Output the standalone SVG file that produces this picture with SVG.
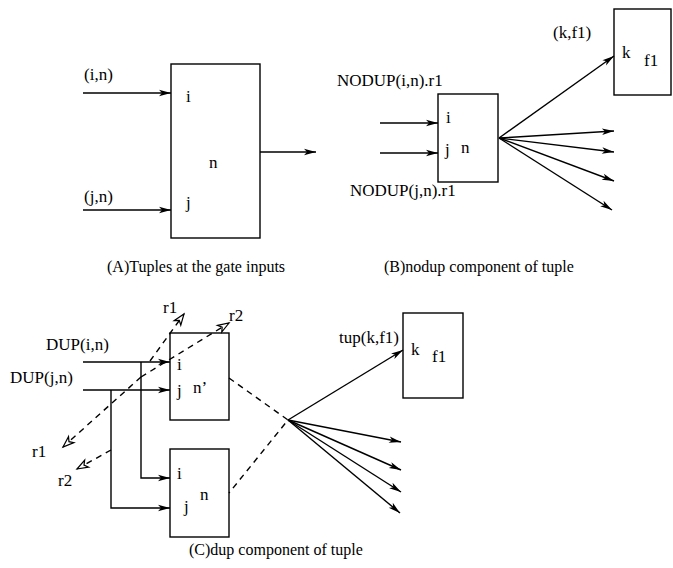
<svg xmlns="http://www.w3.org/2000/svg" width="673" height="568" viewBox="0 0 673 568">
<defs>
<marker id="ah" markerUnits="userSpaceOnUse" markerWidth="13" markerHeight="8" refX="12" refY="4" orient="auto" overflow="visible">
<path d="M0,0.8 L12,4 L0,7.2 L3,4 Z" fill="#000"/>
</marker>
<marker id="oh" markerUnits="userSpaceOnUse" markerWidth="13" markerHeight="9" refX="11" refY="4.5" orient="auto" overflow="visible">
<path d="M0,0.5 L11,4.5 L0,8.5 L3,4.5 Z" fill="#fff" stroke="#000" stroke-width="1.2"/>
</marker>
<style>
.box{fill:#fff;stroke:#000;stroke-width:1.4}
.ln{fill:none;stroke:#000;stroke-width:1.4}
.ar{fill:none;stroke:#000;stroke-width:1.4;marker-end:url(#ah)}
.da{fill:none;stroke:#000;stroke-width:1.4;stroke-dasharray:6 5}
.dh{marker-end:url(#oh)}
text{font-family:"Liberation Serif","Times New Roman",serif;font-size:17px;fill:#000}
.cap{font-size:16px}
</style>
</defs>
<rect width="673" height="568" fill="#fff"/>

<!-- Panel A -->
<g id="nodeA">
<rect class="box" x="171" y="64" width="89" height="174"/>
<text x="186" y="102">i</text>
<text x="186" y="208">j</text>
<text x="209" y="168">n</text>
</g>

<!-- Panel B -->
<g id="nodeB">
<rect class="box" x="438" y="94" width="60" height="88"/>
<text x="446" y="123">i</text>
<text x="445" y="155">j</text>
<text x="461" y="153">n</text>
</g>
<g id="nodeBk">
<rect class="box" x="614" y="9" width="57" height="86"/>
<text x="622" y="58">k</text>
<text x="644" y="66">f1</text>
</g>

<!-- Panel C -->
<g id="nodeCn1">
<rect class="box" x="170" y="333" width="59" height="87"/>
<text x="177" y="370">i</text>
<text x="177" y="396">j</text>
<text x="193" y="393">n’</text>
</g>
<g id="nodeCn">
<rect class="box" x="170" y="449" width="59" height="88"/>
<text x="177" y="479">i</text>
<text x="184" y="512">j</text>
<text x="200" y="500">n</text>
</g>
<g id="nodeCk">
<rect class="box" x="403" y="313" width="60" height="85"/>
<text x="411" y="355">k</text>
<text x="432" y="362">f1</text>
</g>

<g id="connectors">
<!-- A -->
<path class="ar" d="M83,93 H171"/>
<path class="ar" d="M83,210 H171"/>
<path class="ar" d="M260,152 H316"/>
<!-- B -->
<path class="ar" d="M380,123 H438"/>
<path class="ar" d="M380,153 H438"/>
<path class="ar" d="M499,138 L614,56"/>
<path class="ar" d="M499,138 L614,131"/>
<path class="ar" d="M499,138 L614,152"/>
<path class="ar" d="M499,138 L614,181"/>
<path class="ar" d="M499,138 L612,210"/>
<!-- C inputs -->
<path class="ar" d="M83,362 H170"/>
<path class="ar" d="M83,390 H170"/>
<path class="ar" d="M141,362 V478 H170"/>
<path class="ar" d="M111,390 V508 H170"/>
<!-- C dashed -->
<path class="da dh" d="M150,361 L184,314"/>
<path class="da dh" d="M141,377 L229,323"/>
<path class="da dh" d="M141,377 L63,447"/>
<path class="da dh" d="M111,450 L77,469"/>
<path class="da" d="M229,378 L288,420 L229,493"/>
<!-- C fan -->
<path class="ar" d="M288,420 L403,350"/>
<path class="ar" d="M288,420 L401,442"/>
<path class="ar" d="M288,420 L401,470"/>
<path class="ar" d="M288,420 L401,492"/>
<path class="ar" d="M288,420 L400,513"/>
</g>

<g id="labels">
<text x="84" y="80">(i,n)</text>
<text x="84" y="202">(j,n)</text>
<text x="337" y="86">NODUP(i,n).r1</text>
<text x="350" y="196">NODUP(j,n).r1</text>
<text x="553" y="38">(k,f1)</text>
<text x="46" y="350">DUP(i,n)</text>
<text x="10" y="383">DUP(j,n)</text>
<text x="163" y="313">r1</text>
<text x="229" y="321">r2</text>
<text x="32" y="457">r1</text>
<text x="58" y="486">r2</text>
<text x="339" y="343">tup(k,f1)</text>
<text class="cap" x="107" y="272">(A)Tuples at the gate inputs</text>
<text class="cap" x="384" y="272">(B)nodup component of tuple</text>
<text class="cap" x="189" y="555">(C)dup component of tuple</text>
</g>
</svg>
